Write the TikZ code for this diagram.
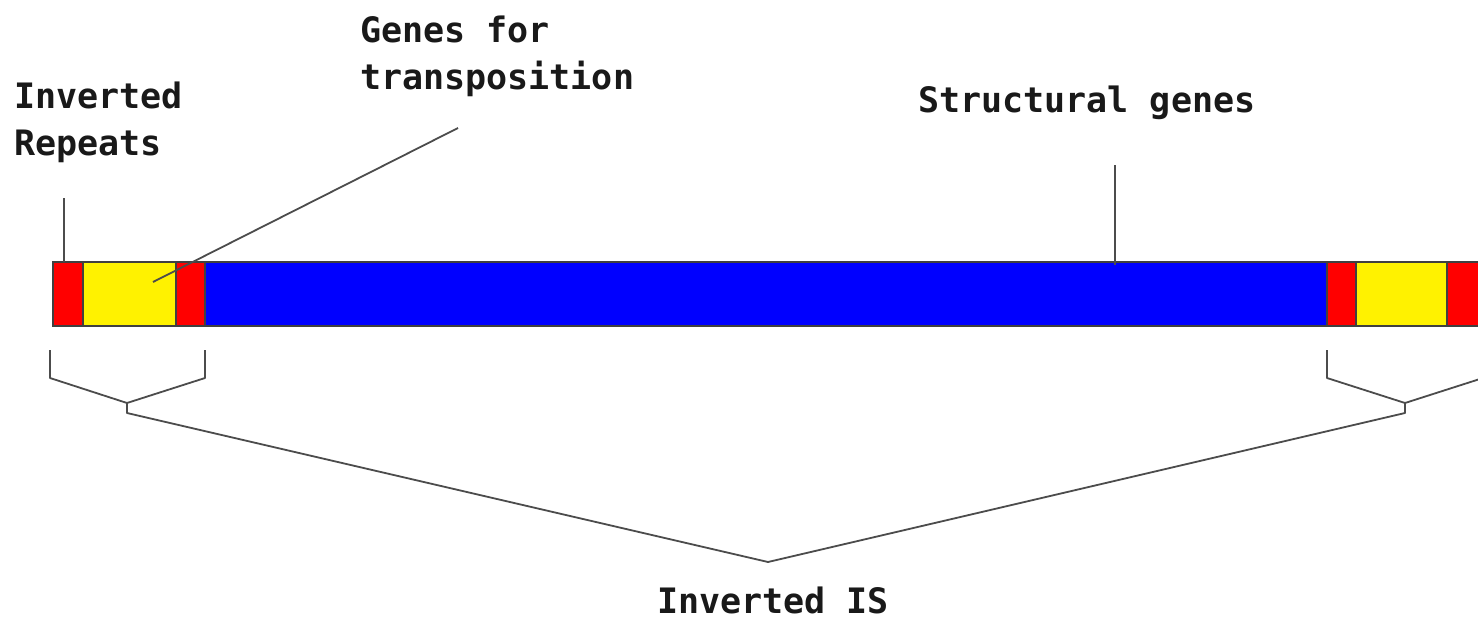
\documentclass[tikz,border=0pt]{standalone}
\usepackage{fontspec}
\setmonofont{DejaVu Sans Mono}
\begin{document}
\begin{tikzpicture}[x=1pt,y=-1pt,
  seg/.style={draw=black!75, line width=1.2pt, anchor=north west, minimum height=64pt, inner sep=0pt, outer sep=0pt},
  lbl/.style={font=\ttfamily\bfseries\fontsize{35}{47}\selectfont, inner sep=0pt, align=left, anchor=north west, text=black!90},
  conn/.style={draw=black!70, line width=1.8pt, line join=round}]
\useasboundingbox (0,0) rectangle (1478,621);
% bar segments
\node[seg, fill=blue, minimum width=1122pt] (b) at (205,262) {};
\node[seg, fill=red, minimum width=30pt] (r1) at (53,262) {};
\node[seg, fill=yellow, minimum width=93pt] (y1) at (83,262) {};
\node[seg, fill=red, minimum width=29pt] (r2) at (176,262) {};
\node[seg, fill=red, minimum width=29pt] (r3) at (1327,262) {};
\node[seg, fill=yellow, minimum width=91pt] (y2) at (1356,262) {};
\node[seg, fill=red, minimum width=34pt] (r4) at (1447,262) {};
% labels
\node[lbl] (ir) at (14,82) {Inverted\\Repeats};
\node[lbl] (gt) at (360,16) {Genes for\\transposition};
\node[lbl] (sg) at (918,86) {Structural genes};
\node[lbl, anchor=base west] (is) at (657,613) {Inverted IS};
% pointer coordinates
\coordinate (irA) at (64,198);
\coordinate (irB) at (64,262);
\coordinate (gtA) at (458,128);
\coordinate (gtB) at (153,282);
\coordinate (sgA) at (1115,165);
\coordinate (sgB) at (1115,265);
\draw[conn] (irA) -- (irB);
\draw[conn] (gtA) -- (gtB);
\draw[conn] (sgA) -- (sgB);
% braces
\coordinate (apex) at (768,562);
\coordinate (lc) at (127,403);
\coordinate (rc) at (1405,403);
\draw[conn] (50,350) -- (50,378) -- (lc) -- (205,378) -- (205,350);
\draw[conn] (1327,350) -- (1327,378) -- (rc) -- (1483,378) -- (1483,350);
\draw[conn] (lc) -- ++(0,10) -- (apex) -- (1405,413) -- (rc);
\end{tikzpicture}
\end{document}
